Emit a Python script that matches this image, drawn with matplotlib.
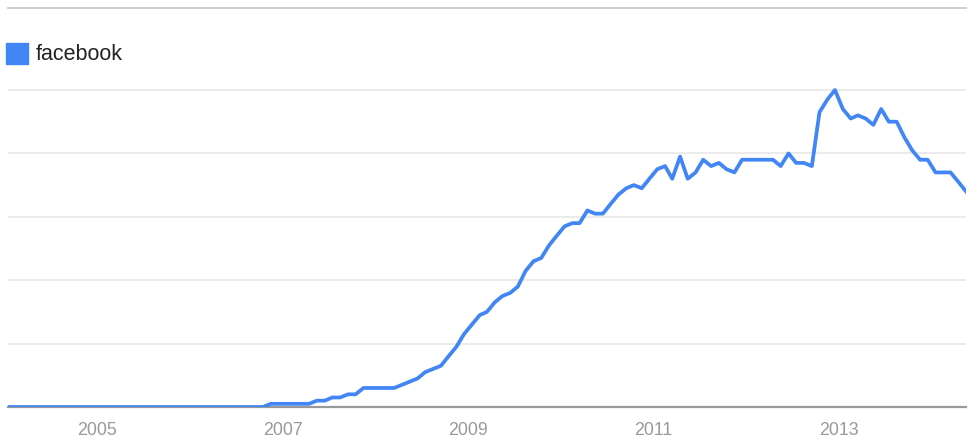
import matplotlib
matplotlib.use("Agg")
import matplotlib.pyplot as plt
from matplotlib.patches import Rectangle
import pandas as pd

series_name = "facebook"
start_month = "2004-01"
values = [0] * 34 + [1, 1, 1, 1, 1, 1, 2, 2, 3, 3, 4, 4, 6, 6, 6, 6, 6] + [
    7, 8, 9, 11, 12, 13, 16, 19, 23, 26,
    29, 30, 33, 35, 36, 38, 43, 46, 47, 51,
    54, 57, 58, 58, 62, 61, 61, 64, 67, 69,
    70, 69, 72, 75, 76, 72, 79, 72, 74, 78,
    76, 77, 75, 74, 78, 78, 78, 78, 78, 76,
    80, 77, 77, 76, 93, 97, 100, 94, 91, 92,
    91, 89, 94, 90, 90, 85, 81, 78, 78, 74,
    74, 74, 71, 68,
]
tick_years = [2005, 2007, 2009, 2011, 2013]
grid_values = [20, 40, 60, 80, 100]

dates = pd.date_range(start_month + "-01", periods=len(values), freq="MS") + pd.Timedelta(days=14)

plt.rcParams['font.family'] = ['Liberation Sans', 'DejaVu Sans']

W, H = 977, 448
fig = plt.figure(figsize=(W / 100, H / 100), dpi=100)
left, right, bottom_px, top_px = 8, 966, 407, 8
ax = fig.add_axes([left / W, (H - bottom_px) / H, (right - left) / W, (bottom_px - top_px) / H])

ymax = 100 * (bottom_px - top_px) / (bottom_px - 90)
ax.set_ylim(0, ymax)
ax.set_xlim(dates[0], dates[-1])

for g in grid_values:
    ax.axhline(g, color="#ebebeb", lw=1.4, zorder=1)

ax.plot(dates, values, color="#4285F4", lw=2.7, zorder=3)

for s in ["left", "right"]:
    ax.spines[s].set_visible(False)
ax.spines["bottom"].set_color("#999999")
ax.spines["bottom"].set_linewidth(1.6)
ax.spines["bottom"].set_zorder(2)
ax.spines["top"].set_color("#cccccc")
ax.spines["top"].set_linewidth(1.3)

ax.set_yticks([])
ax.set_xticks([pd.Timestamp(f"{y}-01-01") for y in tick_years])
ax.set_xticklabels([str(y) for y in tick_years])
ax.tick_params(axis="x", length=0, pad=11, labelsize=12.8, labelcolor="#999999")

# legend
fig.patches.append(Rectangle((6 / W, (H - 64) / H), 22 / W, 21 / H,
                             transform=fig.transFigure, color="#4285F4", zorder=5))
fig.text(36 / W, (H - 54) / H, series_name, fontsize=15.5, color="#222222",
         va="center", ha="left")

fig.savefig("out.png", dpi=100)
